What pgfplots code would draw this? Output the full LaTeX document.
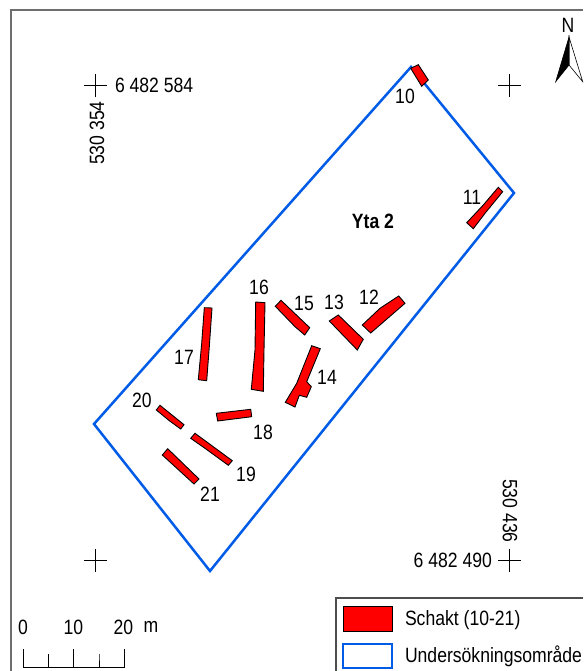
\documentclass[border=0pt]{standalone}
\usepackage{pgfplots}
\pgfplotsset{compat=1.18}
\usepackage{fontspec}
\setmainfont[FakeStretch=0.85]{Liberation Sans}
\definecolor{areablue}{HTML}{005CE6}
\definecolor{framegray}{HTML}{6E6E6E}
\newcommand{\lab}{\fontsize{20.7}{22}\selectfont}
\tikzset{t/.style={font=\lab,inner sep=0pt,outer sep=0pt}}
\pgfplotsset{
  schakt/.style={draw=black,fill=red,line width=0.9pt,forget plot},
  area/.style={draw=areablue,line width=2.5pt,line join=miter,forget plot},
}
\begin{document}
\begin{tikzpicture}
\useasboundingbox (0,0) rectangle (583pt,671pt);
\begin{axis}[
  at={(0,0)},anchor=south west,
  width=583pt,height=671pt,scale only axis,
  xmin=0,xmax=583,ymin=0,ymax=671,y dir=reverse,
  hide axis,
]
% frame
\addplot[framegray,line width=1.2pt,forget plot] coordinates {(11,671) (11,10) (583,10)};
% survey area
\addplot[area] coordinates {(411,67) (514,193) (210,571) (94,424)} -- cycle;
% grid crosses
\addplot[only marks,mark=+,mark size=11.5pt,mark options={black,line width=0.9pt},forget plot]
  coordinates {(95.5,85.5) (509.5,85.5) (95.5,560) (509.5,560)};
% trenches 10-21
\addplot[schakt] coordinates {(418.3,64.7) (428.3,80) (421.7,86.3) (410.7,68.3)} -- cycle;
\addplot[schakt] coordinates {(498.3,187.3) (502.7,191.7) (485,213.3) (473.3,228.7) (466.7,222.7) (483.3,205)} -- cycle;
\addplot[schakt] coordinates {(398.7,296) (405,303.3) (370.7,333) (362.3,325) (380,308.3)} -- cycle;
\addplot[schakt] coordinates {(338.3,315) (363.3,339.3) (357.3,350) (329.3,321)} -- cycle;
\addplot[schakt] coordinates {(311.7,345.7) (320.3,348.7) (306.7,381.7) (311.3,386.7) (306.7,397.3) (299.3,395.3) (295,407) (285.3,402.3) (296.7,383.3)} -- cycle;
\addplot[schakt] coordinates {(281,300.3) (309.7,327.7) (304.7,335) (295,326.7) (275.3,306.3)} -- cycle;
\addplot[schakt] coordinates {(255.7,302) (265,302.7) (264,350) (263.3,391.3) (251.3,389.3) (255,350)} -- cycle;
\addplot[schakt] coordinates {(204.3,307.7) (212,308) (209.3,346.7) (206.7,380.7) (198.3,379.7) (201.7,343.3)} -- cycle;
\addplot[schakt] coordinates {(216.3,413.3) (250.7,409.3) (251.7,416.7) (217.7,421)} -- cycle;
\addplot[schakt] coordinates {(195,433.3) (232.3,460.7) (228.3,465.3) (205,448.3) (190.7,438.3)} -- cycle;
\addplot[schakt] coordinates {(160,405.3) (184,424.7) (180.7,429) (169.3,420.7) (156.3,410)} -- cycle;
\addplot[schakt] coordinates {(167.7,448.7) (199,479) (194,484) (162.3,455)} -- cycle;
% north arrow
\addplot[draw=black,fill=white,line width=0.6pt,forget plot] coordinates {(569,37) (582.7,81.7) (569,65)} -- cycle;
\addplot[draw=black,fill=black,line width=0.6pt,forget plot] coordinates {(569,37) (555.7,81.7) (569,65)} -- cycle;
\node[t] at (axis cs:568,25) {N};
% scale bar
\addplot[black,line width=0.8pt,forget plot] coordinates {(23.5,649) (23.5,667.5) (48.5,667.5) (48.5,654) (48.5,667.5) (73.5,667.5) (73.5,649) (73.5,667.5) (99,667.5) (99,654) (99,667.5) (124,667.5) (124,649)};
\node[t] at (axis cs:23,627) {0};
\node[t] at (axis cs:73.5,627) {10};
\node[t] at (axis cs:123.5,627) {20};
\node[t] at (axis cs:151,627) {m};
% legend
\addplot[framegray!70!black,line width=1.2pt,forget plot] coordinates {(583,598) (336,598) (336,671)};
\addplot[schakt] coordinates {(343,606) (392,606) (392,631) (343,631)} -- cycle;
\addplot[draw=areablue,fill=white,line width=2.5pt,forget plot] coordinates {(343,644) (392,644) (392,668) (343,668)} -- cycle;
\node[t,anchor=west] at (axis cs:405,620) {Schakt (10-21)};
\node[t,anchor=west] at (axis cs:405,656) {Undersökningsområde};
% coordinates
\node[t,anchor=west] at (axis cs:115,85.5) {6 482 584};
\node[t,rotate=90] at (axis cs:97,133) {530 354};
\node[t,rotate=-90] at (axis cs:510,511) {530 436};
\node[t,anchor=east] at (axis cs:492,560) {6 482 490};
% labels
\node[t,font=\lab\bfseries] at (axis cs:373,221) {Yta 2};
\node[t] at (axis cs:405,96) {10};
\node[t] at (axis cs:472,197) {11};
\node[t] at (axis cs:369,297) {12};
\node[t] at (axis cs:334,302) {13};
\node[t] at (axis cs:327,377) {14};
\node[t] at (axis cs:304,303) {15};
\node[t] at (axis cs:259,287) {16};
\node[t] at (axis cs:184,357) {17};
\node[t] at (axis cs:263,432) {18};
\node[t] at (axis cs:246,474) {19};
\node[t] at (axis cs:142,400) {20};
\node[t] at (axis cs:210,494) {21};
\end{axis}
\end{tikzpicture}
\end{document}
